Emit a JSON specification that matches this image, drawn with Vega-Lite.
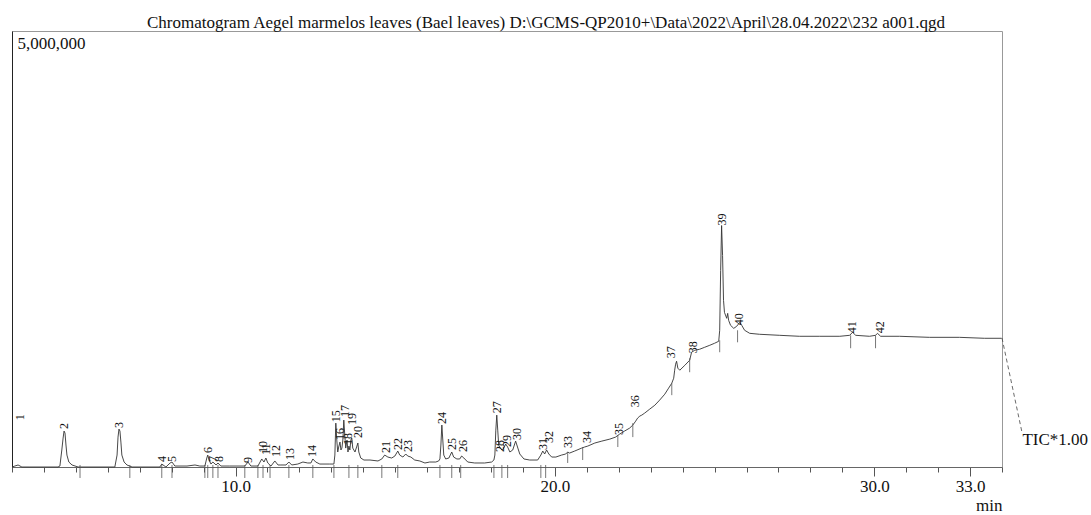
{
  "$schema": "https://vega.github.io/schema/vega-lite/v6.json",
  "width": 990,
  "height": 436,
  "autosize": {"type": "none"},
  "padding": {"left": 12, "top": 31, "right": 89, "bottom": 48},
  "background": "white",
  "title": {
    "text": "Chromatogram Aegel marmelos leaves (Bael leaves) D:\\GCMS-QP2010+\\Data\\2022\\April\\28.04.2022\\232  a001.qgd",
    "font": "Liberation Serif",
    "fontSize": 17,
    "fontWeight": "normal",
    "color": "#111",
    "anchor": "middle",
    "frame": "group",
    "dx": 39,
    "offset": -14,
    "baseline": "alphabetic"
  },
  "config": {
    "view": {"stroke": "#999", "strokeWidth": 1},
    "font": "Liberation Serif"
  },
  "datasets": {
    "trace": [
      {"t": 3.00, "v": 0}, {"t": 3.09, "v": 11000}, {"t": 3.19, "v": 23000}, {"t": 3.31, "v": 0},
      {"t": 3.56, "v": 0}, {"t": 4.44, "v": 0}, {"t": 4.50, "v": 11000}, {"t": 4.56, "v": 195000},
      {"t": 4.60, "v": 332000}, {"t": 4.63, "v": 412000}, {"t": 4.66, "v": 389000}, {"t": 4.69, "v": 252000},
      {"t": 4.72, "v": 137000}, {"t": 4.78, "v": 57000}, {"t": 4.88, "v": 23000}, {"t": 5.07, "v": 0},
      {"t": 6.22, "v": 0}, {"t": 6.29, "v": 137000}, {"t": 6.32, "v": 343000}, {"t": 6.35, "v": 435000},
      {"t": 6.38, "v": 412000}, {"t": 6.41, "v": 286000}, {"t": 6.44, "v": 137000}, {"t": 6.51, "v": 57000},
      {"t": 6.60, "v": 23000}, {"t": 6.76, "v": 0}, {"t": 7.63, "v": 0}, {"t": 7.69, "v": 34000},
      {"t": 7.82, "v": 0}, {"t": 7.95, "v": 46000}, {"t": 8.01, "v": 57000}, {"t": 8.10, "v": 11000},
      {"t": 8.48, "v": 11000}, {"t": 8.73, "v": 23000}, {"t": 8.88, "v": 11000}, {"t": 9.04, "v": 11000},
      {"t": 9.10, "v": 103000}, {"t": 9.13, "v": 137000}, {"t": 9.17, "v": 80000}, {"t": 9.23, "v": 34000},
      {"t": 9.29, "v": 57000}, {"t": 9.39, "v": 23000}, {"t": 9.45, "v": 46000}, {"t": 9.54, "v": 11000},
      {"t": 9.82, "v": 11000}, {"t": 10.29, "v": 11000}, {"t": 10.39, "v": 57000}, {"t": 10.48, "v": 11000},
      {"t": 10.70, "v": 11000}, {"t": 10.82, "v": 92000}, {"t": 10.89, "v": 57000}, {"t": 10.95, "v": 103000},
      {"t": 11.01, "v": 46000}, {"t": 11.11, "v": 11000}, {"t": 11.23, "v": 69000}, {"t": 11.33, "v": 23000},
      {"t": 11.42, "v": 23000}, {"t": 11.58, "v": 23000}, {"t": 11.67, "v": 57000}, {"t": 11.76, "v": 23000},
      {"t": 11.95, "v": 34000}, {"t": 12.11, "v": 57000}, {"t": 12.26, "v": 46000}, {"t": 12.36, "v": 46000},
      {"t": 12.42, "v": 92000}, {"t": 12.51, "v": 57000}, {"t": 12.64, "v": 34000}, {"t": 12.95, "v": 34000},
      {"t": 13.08, "v": 34000}, {"t": 13.11, "v": 137000}, {"t": 13.14, "v": 503000}, {"t": 13.17, "v": 309000},
      {"t": 13.20, "v": 172000}, {"t": 13.23, "v": 229000}, {"t": 13.27, "v": 286000}, {"t": 13.30, "v": 195000},
      {"t": 13.33, "v": 217000}, {"t": 13.36, "v": 309000}, {"t": 13.39, "v": 538000}, {"t": 13.42, "v": 366000},
      {"t": 13.45, "v": 217000}, {"t": 13.49, "v": 309000}, {"t": 13.52, "v": 172000}, {"t": 13.55, "v": 240000},
      {"t": 13.58, "v": 195000}, {"t": 13.61, "v": 309000}, {"t": 13.64, "v": 332000}, {"t": 13.67, "v": 217000},
      {"t": 13.74, "v": 172000}, {"t": 13.80, "v": 240000}, {"t": 13.83, "v": 275000}, {"t": 13.86, "v": 172000},
      {"t": 13.92, "v": 103000}, {"t": 14.02, "v": 80000}, {"t": 14.21, "v": 80000}, {"t": 14.46, "v": 69000},
      {"t": 14.58, "v": 92000}, {"t": 14.67, "v": 137000}, {"t": 14.77, "v": 114000}, {"t": 14.89, "v": 103000},
      {"t": 14.99, "v": 126000}, {"t": 15.08, "v": 183000}, {"t": 15.14, "v": 137000}, {"t": 15.24, "v": 114000},
      {"t": 15.33, "v": 149000}, {"t": 15.39, "v": 126000}, {"t": 15.49, "v": 114000}, {"t": 15.61, "v": 80000},
      {"t": 15.77, "v": 69000}, {"t": 15.93, "v": 46000}, {"t": 16.08, "v": 57000}, {"t": 16.27, "v": 57000},
      {"t": 16.36, "v": 69000}, {"t": 16.40, "v": 92000}, {"t": 16.43, "v": 252000}, {"t": 16.46, "v": 481000},
      {"t": 16.49, "v": 309000}, {"t": 16.52, "v": 137000}, {"t": 16.58, "v": 92000}, {"t": 16.68, "v": 103000},
      {"t": 16.77, "v": 172000}, {"t": 16.83, "v": 114000}, {"t": 16.93, "v": 92000}, {"t": 17.02, "v": 92000},
      {"t": 17.08, "v": 126000}, {"t": 17.15, "v": 103000}, {"t": 17.27, "v": 57000}, {"t": 17.49, "v": 46000},
      {"t": 17.80, "v": 46000}, {"t": 18.02, "v": 57000}, {"t": 18.09, "v": 80000}, {"t": 18.12, "v": 137000},
      {"t": 18.15, "v": 423000}, {"t": 18.18, "v": 595000}, {"t": 18.21, "v": 423000}, {"t": 18.24, "v": 252000},
      {"t": 18.27, "v": 229000}, {"t": 18.34, "v": 195000}, {"t": 18.40, "v": 217000}, {"t": 18.46, "v": 263000},
      {"t": 18.52, "v": 229000}, {"t": 18.59, "v": 172000}, {"t": 18.68, "v": 195000}, {"t": 18.77, "v": 297000},
      {"t": 18.84, "v": 217000}, {"t": 18.90, "v": 149000}, {"t": 19.03, "v": 92000}, {"t": 19.21, "v": 80000},
      {"t": 19.46, "v": 80000}, {"t": 19.56, "v": 137000}, {"t": 19.62, "v": 183000}, {"t": 19.68, "v": 149000},
      {"t": 19.74, "v": 195000}, {"t": 19.81, "v": 149000}, {"t": 19.90, "v": 114000}, {"t": 20.03, "v": 114000},
      {"t": 20.21, "v": 137000}, {"t": 20.34, "v": 149000}, {"t": 20.40, "v": 172000}, {"t": 20.46, "v": 160000},
      {"t": 20.62, "v": 183000}, {"t": 20.84, "v": 217000}, {"t": 20.93, "v": 229000}, {"t": 21.03, "v": 240000},
      {"t": 21.25, "v": 275000}, {"t": 21.47, "v": 297000}, {"t": 21.72, "v": 320000}, {"t": 21.90, "v": 343000},
      {"t": 22.03, "v": 378000}, {"t": 22.18, "v": 412000}, {"t": 22.34, "v": 446000}, {"t": 22.44, "v": 481000},
      {"t": 22.53, "v": 526000}, {"t": 22.59, "v": 561000}, {"t": 22.66, "v": 584000}, {"t": 22.72, "v": 595000},
      {"t": 22.81, "v": 618000}, {"t": 22.97, "v": 664000}, {"t": 23.13, "v": 709000}, {"t": 23.28, "v": 767000},
      {"t": 23.44, "v": 835000}, {"t": 23.56, "v": 904000}, {"t": 23.66, "v": 961000}, {"t": 23.72, "v": 1018000},
      {"t": 23.75, "v": 1110000}, {"t": 23.78, "v": 1179000}, {"t": 23.81, "v": 1213000}, {"t": 23.85, "v": 1133000},
      {"t": 23.91, "v": 1110000}, {"t": 24.07, "v": 1167000}, {"t": 24.22, "v": 1224000}, {"t": 24.28, "v": 1316000},
      {"t": 24.38, "v": 1339000}, {"t": 24.53, "v": 1350000}, {"t": 24.69, "v": 1373000}, {"t": 24.85, "v": 1396000},
      {"t": 25.00, "v": 1419000}, {"t": 25.13, "v": 1442000}, {"t": 25.16, "v": 1568000}, {"t": 25.19, "v": 2254000},
      {"t": 25.22, "v": 2769000}, {"t": 25.25, "v": 2426000}, {"t": 25.28, "v": 1911000}, {"t": 25.31, "v": 1773000},
      {"t": 25.38, "v": 1705000}, {"t": 25.41, "v": 1762000}, {"t": 25.44, "v": 1682000}, {"t": 25.50, "v": 1625000},
      {"t": 25.60, "v": 1590000}, {"t": 25.69, "v": 1613000}, {"t": 25.79, "v": 1659000}, {"t": 25.85, "v": 1625000},
      {"t": 25.94, "v": 1568000}, {"t": 26.10, "v": 1533000}, {"t": 26.41, "v": 1522000}, {"t": 27.04, "v": 1510000},
      {"t": 27.66, "v": 1499000}, {"t": 28.29, "v": 1499000}, {"t": 28.92, "v": 1499000}, {"t": 29.23, "v": 1510000},
      {"t": 29.32, "v": 1545000}, {"t": 29.42, "v": 1510000}, {"t": 29.85, "v": 1499000}, {"t": 30.04, "v": 1510000},
      {"t": 30.10, "v": 1533000}, {"t": 30.20, "v": 1499000}, {"t": 30.79, "v": 1499000}, {"t": 31.73, "v": 1487000},
      {"t": 32.67, "v": 1487000}, {"t": 33.45, "v": 1476000}, {"t": 33.99, "v": 1476000}
    ],
    "peaks": [
      {"p": "1", "t": 3.25, "v": 526000}, {"p": "2", "t": 4.63, "v": 423000}, {"p": "3", "t": 6.35, "v": 435000},
      {"p": "4", "t": 7.69, "v": 46000}, {"p": "5", "t": 8.01, "v": 46000}, {"p": "6", "t": 9.13, "v": 149000},
      {"p": "7", "t": 9.29, "v": 46000}, {"p": "8", "t": 9.48, "v": 46000}, {"p": "9", "t": 10.39, "v": 34000},
      {"p": "10", "t": 10.86, "v": 149000}, {"p": "11", "t": 10.95, "v": 126000}, {"p": "12", "t": 11.26, "v": 103000},
      {"p": "13", "t": 11.70, "v": 69000}, {"p": "14", "t": 12.39, "v": 103000}, {"p": "15", "t": 13.14, "v": 503000},
      {"p": "16", "t": 13.27, "v": 297000}, {"p": "17", "t": 13.42, "v": 561000}, {"p": "18", "t": 13.52, "v": 240000},
      {"p": "19", "t": 13.64, "v": 469000}, {"p": "20", "t": 13.83, "v": 320000}, {"p": "21", "t": 14.71, "v": 149000},
      {"p": "22", "t": 15.08, "v": 183000}, {"p": "23", "t": 15.39, "v": 160000}, {"p": "24", "t": 16.46, "v": 481000},
      {"p": "25", "t": 16.77, "v": 183000}, {"p": "26", "t": 17.12, "v": 160000}, {"p": "27", "t": 18.18, "v": 606000},
      {"p": "28", "t": 18.27, "v": 160000}, {"p": "29", "t": 18.49, "v": 217000}, {"p": "30", "t": 18.81, "v": 297000},
      {"p": "31", "t": 19.62, "v": 183000}, {"p": "32", "t": 19.81, "v": 263000}, {"p": "33", "t": 20.40, "v": 206000},
      {"p": "34", "t": 21.00, "v": 263000}, {"p": "35", "t": 22.00, "v": 355000}, {"p": "36", "t": 22.50, "v": 675000},
      {"p": "37", "t": 23.65, "v": 1236000}, {"p": "38", "t": 24.31, "v": 1293000}, {"p": "39", "t": 25.22, "v": 2758000},
      {"p": "40", "t": 25.76, "v": 1613000}, {"p": "41", "t": 29.29, "v": 1522000}, {"p": "42", "t": 30.17, "v": 1522000}
    ],
    "markers": [
      {"t": 5.13, "v": -126000, "v2": 23000}, {"t": 6.69, "v": -126000, "v2": 23000},
      {"t": 7.69, "v": -126000, "v2": 23000}, {"t": 8.01, "v": -126000, "v2": 23000},
      {"t": 9.04, "v": -126000, "v2": 23000}, {"t": 9.13, "v": -126000, "v2": 23000},
      {"t": 9.29, "v": -126000, "v2": 23000}, {"t": 9.45, "v": -126000, "v2": 23000},
      {"t": 10.29, "v": -126000, "v2": 23000}, {"t": 10.70, "v": -126000, "v2": 23000},
      {"t": 10.86, "v": -126000, "v2": 23000}, {"t": 11.08, "v": -126000, "v2": 23000},
      {"t": 11.67, "v": -126000, "v2": 23000}, {"t": 12.42, "v": -126000, "v2": 23000},
      {"t": 13.08, "v": -126000, "v2": 23000}, {"t": 13.55, "v": -126000, "v2": 23000},
      {"t": 13.83, "v": -126000, "v2": 23000}, {"t": 14.58, "v": -126000, "v2": 23000},
      {"t": 15.08, "v": -126000, "v2": 23000}, {"t": 16.40, "v": -126000, "v2": 23000},
      {"t": 16.77, "v": -126000, "v2": 23000}, {"t": 17.05, "v": -126000, "v2": 23000},
      {"t": 18.09, "v": -126000, "v2": 23000}, {"t": 18.34, "v": -126000, "v2": 23000},
      {"t": 18.52, "v": -126000, "v2": 23000}, {"t": 19.56, "v": -126000, "v2": 23000},
      {"t": 19.71, "v": -126000, "v2": 23000},
      {"t": 20.40, "v": 46000, "v2": 172000}, {"t": 20.87, "v": 80000, "v2": 229000},
      {"t": 21.97, "v": 229000, "v2": 366000}, {"t": 22.44, "v": 343000, "v2": 503000},
      {"t": 23.66, "v": 824000, "v2": 961000}, {"t": 24.22, "v": 1087000, "v2": 1247000},
      {"t": 25.16, "v": 1316000, "v2": 1453000}, {"t": 25.72, "v": 1430000, "v2": 1568000},
      {"t": 29.26, "v": 1362000, "v2": 1510000}, {"t": 30.04, "v": 1362000, "v2": 1510000}
    ],
    "tail": [
      {"t": 34.0, "v": 1479000}, {"t": 34.63, "v": 390000}
    ],
    "notes": [
      {"t": 34.64, "v": 310000, "s": "TIC*1.00"}
    ]
  },
  "encoding": {
    "x": {
      "field": "t", "type": "quantitative",
      "scale": {"domain": [3, 34], "nice": false, "zero": false},
      "axis": {
        "title": "min",
        "titleFont": "Liberation Serif", "titleFontSize": 17, "titleFontWeight": "normal", "titleColor": "#111",
        "titleAnchor": "end", "titleAlign": "right", "titleBaseline": "top", "titlePadding": 3,
        "values": [3,4,5,6,7,8,9,10,11,12,13,14,15,16,17,18,19,20,21,22,23,24,25,26,27,28,29,30,31,32,33,34],
        "format": ".1f",
        "labelExpr": "indexof([10,20,30,33], datum.value) >= 0 ? datum.label : ''",
        "labelFont": "Liberation Serif", "labelFontSize": 17, "labelColor": "#111",
        "labelPadding": 2, "labelFlush": false, "labelOverlap": false,
        "tickSize": {"condition": {"test": "indexof([10,20,30,33], datum.value) >= 0", "value": 9}, "value": 5},
        "tickColor": "#555", "domainColor": "#666", "grid": false
      }
    },
    "y": {
      "field": "v", "type": "quantitative",
      "scale": {"domain": [0, 5000000], "nice": false, "zero": false},
      "axis": {
        "title": null, "values": [5000000],
        "labelExpr": "'5,000,000'",
        "ticks": false, "tickSize": 0, "grid": false,
        "labelAlign": "left", "labelBaseline": "top", "labelPadding": -5, "labelOffset": 4,
        "labelFont": "Liberation Serif", "labelFontSize": 17, "labelColor": "#111",
        "domainColor": "#222", "labelFlush": false
      }
    }
  },
  "layer": [
    {
      "data": {"name": "trace"},
      "mark": {"type": "line", "color": "#333", "strokeWidth": 0.9}
    },
    {
      "data": {"name": "markers"},
      "mark": {"type": "rule", "color": "#555", "strokeWidth": 0.8},
      "encoding": {
        "y2": {"field": "v2"}
      }
    },
    {
      "data": {"name": "peaks"},
      "mark": {"type": "text", "angle": 270, "align": "left", "baseline": "middle", "dx": 1, "font": "Liberation Serif", "fontSize": 12, "color": "#111"},
      "encoding": {
        "text": {"field": "p"}
      }
    },
    {
      "data": {"name": "tail"},
      "mark": {"type": "line", "color": "#444", "strokeWidth": 0.8, "strokeDash": [4, 3]}
    },
    {
      "data": {"name": "notes"},
      "mark": {"type": "text", "align": "left", "baseline": "middle", "font": "Liberation Serif", "fontSize": 17, "color": "#111"},
      "encoding": {
        "text": {"field": "s"}
      }
    }
  ]
}
